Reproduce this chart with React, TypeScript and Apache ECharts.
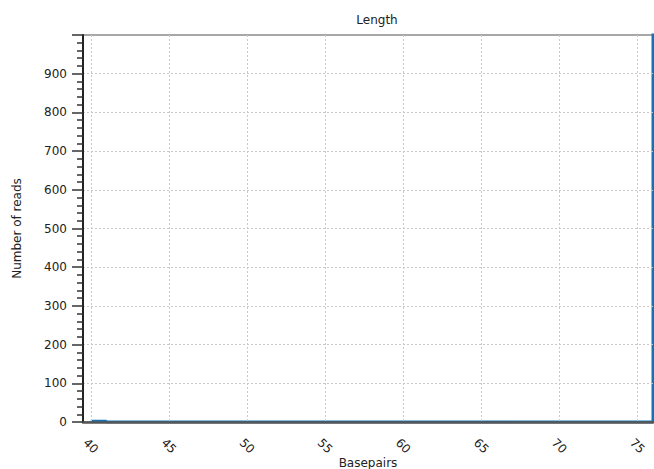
import React, { useEffect, useRef } from "react";
import * as echarts from "echarts";

const titleText = "Length";
const xName = "Basepairs";
const yName = "Number of reads";
const basepairs = [40, 41, 42, 43, 44, 45, 46, 47, 48, 49, 50, 51, 52, 53, 54, 55, 56, 57, 58, 59, 60, 61, 62, 63, 64, 65, 66, 67, 68, 69, 70, 71, 72, 73, 74, 75, 76];
const readCounts = [2, 0, 0, 0, 0, 0, 0, 0, 0, 0, 0, 0, 0, 0, 0, 0, 0, 0, 0, 0, 0, 0, 0, 0, 0, 0, 0, 0, 0, 0, 0, 0, 0, 0, 0, 0, 25000];

const FONT = "DejaVu Sans";

export default function App() {
  const ref = useRef<HTMLDivElement>(null);
  useEffect(() => {
    if (!ref.current) return;
    const chart = echarts.init(ref.current, undefined, { renderer: "svg" });
    chart.setOption({
      animation: false,
      title: {
        text: titleText,
        left: 372,
        top: 9,
        textAlign: "center",
        textStyle: { fontFamily: FONT, fontSize: 12, fontWeight: "normal", color: "#222" },
      },
      grid: {
        left: 83,
        right: 1,
        top: 35,
        bottom: 47,
        outerBoundsMode: "none",
        containLabel: false,
        show: true,
        borderColor: "#8a8a8a",
        borderWidth: 1.5,
        backgroundColor: "transparent",
      },
      xAxis: {
        type: "value",
        min: 39.5,
        max: 76,
        minInterval: 5,
        maxInterval: 5,
        splitNumber: 7,
        z: 10,
        name: xName,
        nameLocation: "middle",
        nameGap: 41,
        nameMoveOverlap: false,
        nameTextStyle: { fontFamily: FONT, fontSize: 12, color: "#222", verticalAlign: "middle" },
        axisLine: { show: true, onZero: false, lineStyle: { color: "#555", width: 2.5 } },
        axisTick: { show: false },
        axisLabel: {
          showMinLabel: false,
          showMaxLabel: false,
          rotate: -45,
          align: "center",
          verticalAlign: "middle",
          margin: 24,
          fontFamily: FONT,
          fontSize: 12,
          color: "#222",
        },
        splitLine: {
          show: true,
          showMinLine: false,
          showMaxLine: false,
          lineStyle: { color: "#c8c8c8", type: [2, 2], width: 1 },
        },
      },
      yAxis: {
        type: "value",
        min: 0,
        max: 1000,
        interval: 100,
        z: 10,
        name: yName,
        nameLocation: "middle",
        nameRotate: 90,
        nameGap: 60,
        nameMoveOverlap: false,
        nameTextStyle: { fontFamily: FONT, fontSize: 12, color: "#222" },
        axisLine: { show: true, lineStyle: { color: "#222", width: 2 } },
        axisTick: { show: true, length: 11, lineStyle: { color: "#333", width: 1.5 } },
        minorTick: { show: true, splitNumber: 5, length: 6, lineStyle: { color: "#333", width: 1.5 } },
        axisLabel: {
          showMaxLabel: false,
          margin: 16,
          fontFamily: FONT,
          fontSize: 12,
          color: "#222",
        },
        splitLine: {
          show: true,
          showMinLine: false,
          showMaxLine: false,
          lineStyle: { color: "#c8c8c8", type: [2, 2], width: 1 },
        },
      },
      series: [
        {
          type: "line",
          step: "end",
          z: 1,
          showSymbol: false,
          symbol: "none",
          lineStyle: { color: "#1672b6", width: 3 },
          data: basepairs.map((b, i) => [b, readCounts[i]]),
        },
      ],
    });
    return () => chart.dispose();
  }, []);
  return <div ref={ref} style={{ width: 654, height: 469, position: "absolute", left: 0, top: 0 }} />;
}
